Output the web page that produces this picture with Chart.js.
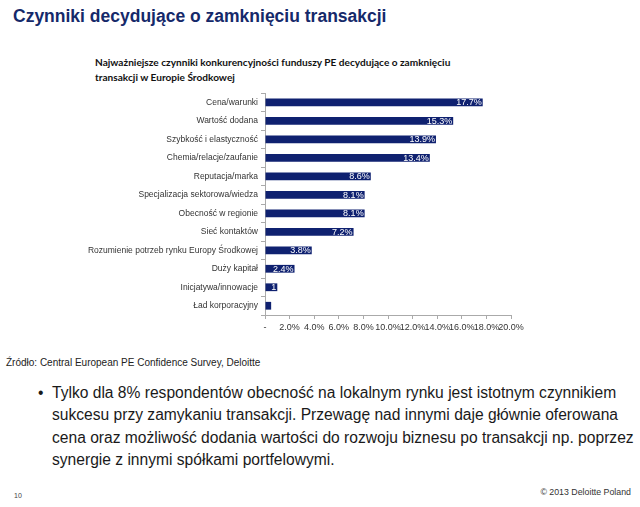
<!DOCTYPE html>
<html>
<head>
<meta charset="utf-8">
<script src="https://cdn.jsdelivr.net/npm/chart.js@4/dist/chart.umd.min.js"></script>
<style>
  html,body{margin:0;padding:0;background:#fff;}
  body{width:640px;height:507px;position:relative;overflow:hidden;font-family:"Liberation Sans",Arial,sans-serif;}
  .abs{position:absolute;white-space:nowrap;}
  #title{left:13px;top:6px;font-size:17.5px;font-weight:bold;color:#15296a;}
  #sub{left:95px;top:55px;font-family:Lato,"Liberation Sans",sans-serif;font-weight:bold;font-size:10.1px;line-height:15px;color:#111;}
  #wrap{position:absolute;left:0;top:85px;width:540px;height:255px;}
  #src{left:6px;top:357px;font-size:10px;color:#222;}
  #bullet{left:38px;top:382px;font-size:15.6px;line-height:22.3px;color:#1a1a1a;}
  #bullet .t{position:absolute;left:14px;}
  #pg{left:14px;top:492px;font-size:7px;color:#444;}
  #copy{right:9px;top:487px;font-size:8.8px;color:#333;}
</style>
</head>
<body>
<div class="abs" id="title">Czynniki decydujące o zamknięciu transakcji</div>
<div class="abs" id="sub">Najważniejsze czynniki konkurencyjności funduszy PE decydujące o zamknięciu<br>transakcji w Europie Środkowej</div>
<div id="wrap"><canvas id="c"></canvas></div>
<div class="abs" id="src">Źródło: Central European PE Confidence Survey, Deloitte</div>
<div class="abs" id="bullet"><span>•</span><span class="t" style="top:0">Tylko dla 8% respondentów obecność na lokalnym rynku jest istotnym czynnikiem</span><span class="t" style="top:22.3px">sukcesu przy zamykaniu transakcji. Przewagę nad innymi daje głównie oferowana</span><span class="t" style="top:44.6px">cena oraz możliwość dodania wartości do rozwoju biznesu po transakcji np. poprzez</span><span class="t" style="top:66.9px">synergie z innymi spółkami portfelowymi.</span></div>
<div class="abs" id="pg">10</div>
<div class="abs" id="copy">© 2013 Deloitte Poland</div>
<script>
const categories = [
  'Cena/warunki',
  'Wartość dodana',
  'Szybkość i elastyczność',
  'Chemia/relacje/zaufanie',
  'Reputacja/marka',
  'Specjalizacja sektorowa/wiedza',
  'Obecność w regionie',
  'Sieć kontaktów',
  'Rozumienie potrzeb rynku Europy Środkowej',
  'Duży kapitał',
  'Inicjatywa/innowacje',
  'Ład korporacyjny'
];
const values = [17.7, 15.3, 13.9, 13.4, 8.6, 8.1, 8.1, 7.2, 3.8, 2.4, 1.0, 0.5];
const valueLabels = ['17.7%','15.3%','13.9%','13.4%','8.6%','8.1%','8.1%','7.2%','3.8%','2.4%','1',''];
const xTicks = [0,2,4,6,8,10,12,14,16,18,20];
const xTickLabels = ['-','2.0%','4.0%','6.0%','8.0%','10.0%','12.0%','14.0%','16.0%','18.0%','20.0%'];

const labelPlugin = {
  id: 'barLabels',
  afterDatasetsDraw(chart) {
    const ctx = chart.ctx;
    const meta = chart.getDatasetMeta(0);
    ctx.save();
    ctx.font = '9px "Liberation Sans", Arial, sans-serif';
    ctx.fillStyle = '#ffffff';
    ctx.textAlign = 'right';
    ctx.textBaseline = 'middle';
    meta.data.forEach((bar, i) => {
      const t = valueLabels[i];
      if (!t) return;
      ctx.fillText(t, bar.x - 1, bar.y + 0.5);
    });
    ctx.restore();
  }
};

new Chart(document.getElementById('c'), {
  type: 'bar',
  data: {
    labels: categories,
    datasets: [{
      data: values,
      backgroundColor: '#0f2170',
      categoryPercentage: 1,
      barPercentage: 0.42
    }]
  },
  options: {
    indexAxis: 'y',
    responsive: true,
    maintainAspectRatio: false,
    animation: false,
    layout: { padding: { top: 2, right: 29, bottom: 5, left: 0 } },
    plugins: { legend: { display: false }, tooltip: { enabled: false }, title: { display: false } },
    scales: {
      x: {
        min: 0, max: 20,
        afterBuildTicks(scale) { scale.ticks = xTicks.map(v => ({ value: v })); },
        afterFit(scale) { scale.height = 20; },
        grid: { drawOnChartArea: false, tickLength: 4, color: '#aaaaaa' },
        border: { color: '#aaaaaa' },
        ticks: {
          autoSkip: false, maxRotation: 0, padding: 3,
          color: '#333333',
          font: { family: '"Liberation Sans", Arial, sans-serif', size: 9 },
          callback(v, i) { return xTickLabels[i]; }
        }
      },
      y: {
        afterFit(scale) { scale.width = 265; },
        grid: { drawOnChartArea: false, tickLength: 4, color: '#aaaaaa', offset: true },
        border: { color: '#aaaaaa' },
        ticks: {
          autoSkip: false, padding: 3,
          color: '#333333',
          font: { family: '"Liberation Sans", Arial, sans-serif', size: 8.5 }
        }
      }
    }
  },
  plugins: [labelPlugin]
});
</script>
</body>
</html>
